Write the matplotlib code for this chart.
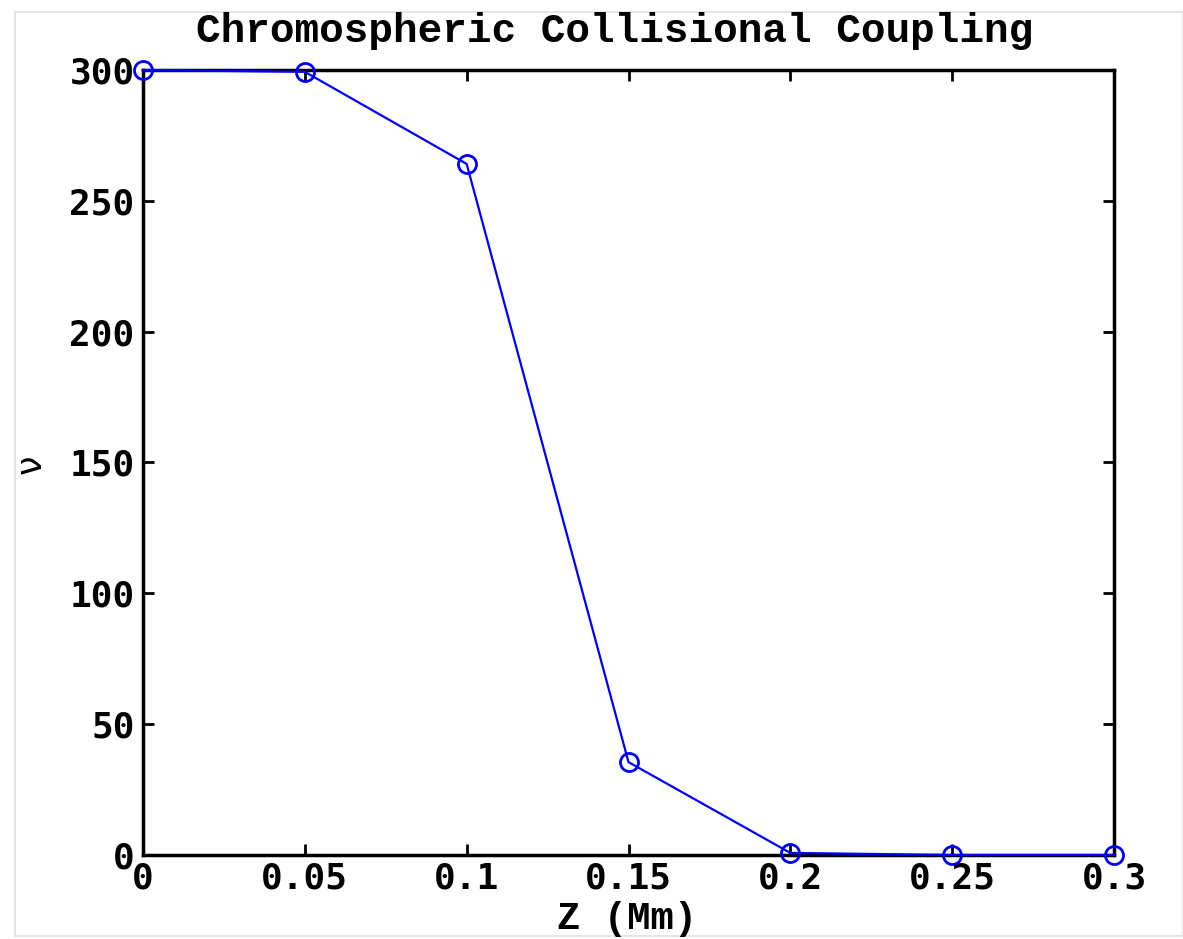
import matplotlib
matplotlib.use("Agg")
import matplotlib.pyplot as plt
from matplotlib.patches import Rectangle

z_mm = [0.0, 0.05, 0.10, 0.15, 0.20, 0.25, 0.30]
nu = [300.0, 299.3, 264.1, 35.5, 0.8, 0.0, 0.0]
x_ticks = [0, 0.05, 0.1, 0.15, 0.2, 0.25, 0.3]
x_ticklabels = ["0", "0.05", "0.1", "0.15", "0.2", "0.25", "0.3"]
y_ticks = [0, 50, 100, 150, 200, 250, 300]
y_ticklabels = ["0", "50", "100", "150", "200", "250", "300"]
title = "Chromospheric Collisional Coupling"
xlabel = "Z (Mm)"
ylabel = "ν"

W, H = 1183, 939
fig = plt.figure(figsize=(W / 100, H / 100), dpi=100)
fig.patch.set_facecolor("white")

# faint outer frame
fig.add_artist(Rectangle((15 / W, 1 - 936 / H), (1183 - 15) / W, (936 - 12) / H,
                         transform=fig.transFigure, fill=False,
                         edgecolor="#e0e0e0", linewidth=1.2))

ax = fig.add_axes([143 / W, 1 - 855 / H, (1114 - 143) / W, (855 - 70) / H])
ax.plot(z_mm, nu, color="#0000ff", linewidth=1.6, marker="o", markersize=13,
        markerfacecolor="none", markeredgecolor="#0000ff", markeredgewidth=2.0,
        clip_on=False, zorder=5)

ax.set_xlim(0, 0.3)
ax.set_ylim(0, 300)
ax.set_xticks(x_ticks)
ax.set_xticklabels(x_ticklabels)
ax.set_yticks(y_ticks)
ax.set_yticklabels(y_ticklabels)

for lab in ax.get_xticklabels() + ax.get_yticklabels():
    lab.set_fontfamily("DejaVu Sans Mono")
    lab.set_fontweight("bold")
    lab.set_fontsize(26)

ax.tick_params(direction="in", length=8, width=2, top=True, right=True,
               labeltop=False, labelright=False)
ax.tick_params(axis="x", pad=5)
ax.tick_params(axis="y", pad=6)
for s in ax.spines.values():
    s.set_linewidth(2.5)
    s.set_color("black")

fig.text(615 / W, 1 - 31 / H, title, ha="center", va="center",
         family="Liberation Mono", weight="bold", fontsize=29.5)
fig.text(627 / W, 1 - 919 / H, xlabel, ha="center", va="center",
         family="Liberation Mono", weight="bold", fontsize=28)
fig.text(31 / W, 1 - 464 / H, ylabel, ha="center", va="center", rotation=90,
         family="DejaVu Sans", fontsize=25)

fig.savefig("out.png", dpi=100, facecolor="white")
